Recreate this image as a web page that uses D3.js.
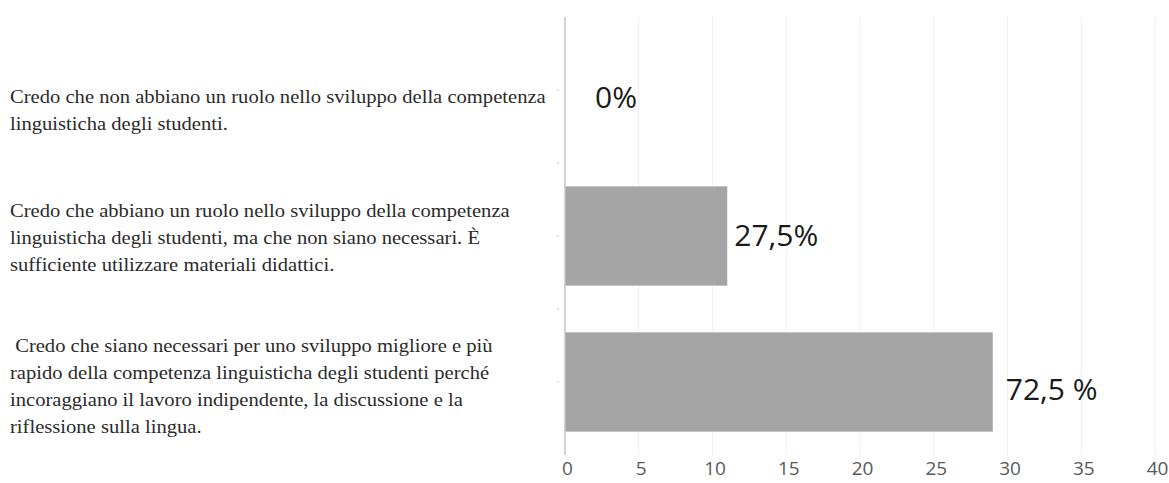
<!DOCTYPE html>
<html>
<head>
<meta charset="utf-8">
<script src="https://cdn.jsdelivr.net/npm/d3@7"></script>
<style>
  body { margin: 0; background: #fff; }
  svg { display: block; }
</style>
</head>
<body>
<svg id="chart" width="1169" height="483"></svg>
<script>
// answers (one entry per line of the label)
const categories = [
  ["Credo che non abbiano un ruolo nello sviluppo della competenza",
   "linguisticha degli studenti."],
  ["Credo che abbiano un ruolo nello sviluppo della competenza",
   "linguisticha degli studenti, ma che non siano necessari. È",
   "sufficiente utilizzare materiali didattici."],
  [" Credo che siano necessari per uno sviluppo migliore e più",
   "rapido della competenza linguisticha degli studenti perché",
   "incoraggiano il lavoro indipendente, la discussione e la",
   "riflessione sulla lingua."]
];
const counts = [0, 11, 29];
const percentLabels = ["0%", "27,5%", "72,5 %"];
const xTicks = [0, 5, 10, 15, 20, 25, 30, 35, 40];

function drawChart() {
  const margin = { top: 17, right: 14, bottom: 28, left: 565 };
  const width = 1169 - margin.left - margin.right;
  const height = 483 - margin.top - margin.bottom;

  const svg = d3.select("svg#chart")
    .append("g")
    .attr("transform", "translate(" + margin.left + "," + margin.top + ")");

  const x = d3.scaleLinear()
    .domain([0, 40])
    .range([0, width]);

  const y = d3.scaleBand()
    .domain(d3.range(categories.length))
    .range([0, height])
    .paddingInner(0.32)
    .paddingOuter(0.16);

  // vertical grid lines
  svg.selectAll(".grid")
    .data(xTicks.slice(1))
    .enter().append("line")
    .attr("class", "grid")
    .attr("x1", d => x(d))
    .attr("x2", d => x(d))
    .attr("y1", 0)
    .attr("y2", height)
    .attr("stroke", "#efefef")
    .attr("stroke-width", 1);

  // bars
  svg.selectAll(".bar")
    .data(counts)
    .enter().append("rect")
    .attr("class", "bar")
    .attr("x", x(0))
    .attr("y", (d, i) => y(i))
    .attr("width", d => x(d) - x(0))
    .attr("height", y.bandwidth())
    .attr("fill", "#a5a5a5");

  // category axis line + small ticks
  svg.append("line")
    .attr("x1", 0).attr("x2", 0)
    .attr("y1", 0).attr("y2", height)
    .attr("stroke", "#c4c4c4")
    .attr("stroke-width", 1.5);

  const step = y.step();
  const tickYs = [];
  categories.forEach((c, i) => {
    tickYs.push(y(i) + y.bandwidth() / 2);
    if (i > 0) tickYs.push(y(i) - step * y.paddingInner() / 2);
  });
  svg.selectAll(".ytick")
    .data(tickYs)
    .enter().append("line")
    .attr("class", "ytick")
    .attr("x1", -8).attr("x2", -6)
    .attr("y1", d => d).attr("y2", d => d)
    .attr("stroke", "#c8c8c8");

  // value axis labels
  const xAxis = svg.append("g")
    .attr("transform", "translate(0," + height + ")")
    .call(d3.axisBottom(x).tickValues(xTicks).tickSize(0));
  xAxis.select(".domain").remove();
  xAxis.selectAll("text")
    .attr("y", 20)
    .attr("dy", 0)
    .attr("dx", 2)
    .style("font-family", "'Open Sans', 'Noto Sans', sans-serif")
    .style("font-size", "19px")
    .style("fill", "#595959");

  // percentage labels
  const labelDx = [30, 7, 13];
  const labelDy = [10, 2, 10];
  svg.selectAll(".pct")
    .data(counts)
    .enter().append("text")
    .attr("class", "pct")
    .attr("x", (d, i) => x(d) + labelDx[i])
    .attr("y", (d, i) => y(i) + y.bandwidth() / 2 + labelDy[i])
    .attr("dominant-baseline", "middle")
    .text((d, i) => percentLabels[i])
    .style("font-family", "'Open Sans', 'Noto Sans', sans-serif")
    .style("font-size", "30px")
    .style("fill", "#1a1a1a");

  // category labels on the left (multi-line)
  const lineGap = 27;
  const groupShift = [22, 4, 6];
  const labels = d3.select("svg#chart").append("g")
    .attr("transform", "translate(10,0) scale(1.145,1)");
  categories.forEach((lines, i) => {
    const cy = margin.top + y(i) + y.bandwidth() / 2 + groupShift[i];
    lines.forEach((t, j) => {
      labels.append("text")
        .attr("x", 0)
        .attr("y", cy + (j - (lines.length - 1) / 2) * lineGap)
        .attr("dominant-baseline", "middle")
        .attr("xml:space", "preserve")
        .text(t)
        .style("white-space", "pre")
        .style("font-family", "'Liberation Serif', 'Times New Roman', serif")
        .style("font-size", "18px")
        .style("fill", "#2b2b2b");
    });
  });
}

drawChart();
</script>
</body>
</html>
